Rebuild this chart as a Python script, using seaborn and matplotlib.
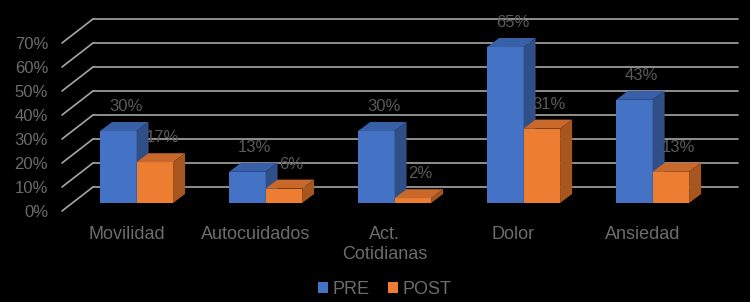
import numpy as np
import pandas as pd
import seaborn as sns
import matplotlib.pyplot as plt
from matplotlib.patches import Polygon, Patch

sns.set_style("dark")
plt.rcParams['font.family'] = ['Liberation Sans', 'DejaVu Sans']

# data
categorias = ["Movilidad", "Autocuidados", "Act.\nCotidianas", "Dolor", "Ansiedad"]
momentos = ["PRE", "POST"]
pre = [30, 13, 30, 65, 43]
post = [17, 6, 2, 31, 13]
yticks = [0, 10, 20, 30, 40, 50, 60, 70]

df = pd.DataFrame({
    "categoria": categorias * 2,
    "valor": pre + post,
    "momento": ["PRE"] * len(pre) + ["POST"] * len(post),
})

front = {"PRE": "#4472C4", "POST": "#ED7D31"}
side = {"PRE": "#2F4F86", "POST": "#A8561F"}
top = {"PRE": "#3760A8", "POST": "#C8682A"}
txt_gray = '#6c6c6c'
lbl_gray = '#5a5a5a'
grid_gray = '#a6a6a6'

fig = plt.figure(figsize=(7.5, 3.02), dpi=100, facecolor='black')
ax = fig.add_axes([62/750, 91/302, 676/750, 192/302])
ax.set_facecolor('black')

sns.barplot(data=df, x="categoria", y="valor", hue="momento", hue_order=momentos,
            palette=front, width=0.566, saturation=1, linewidth=0, legend=False, ax=ax)

# depth offsets (data units)
sx, sy = 0.078, 3.33    # bar plane behind the front wall
dx, dy = 0.093, 3.75    # depth of each bar
wx, wy = 0.24, 10.0     # depth of the back wall

# back wall grid
for v in yticks:
    ax.plot([-0.5, -0.5 + wx], [v, v + wy], color=grid_gray, lw=1.2, zorder=0, clip_on=False)
    ax.plot([-0.5 + wx, 4.74], [v + wy, v + wy], color=grid_gray, lw=1.2, zorder=0, clip_on=False)

n = len(categorias)
for i, p in enumerate(list(ax.patches)):
    m = momentos[i // n]
    val = (pre + post)[i]
    z = 2 if m == "PRE" else 3
    p.set_x(p.get_x() + sx)
    p.set_y(p.get_y() + sy)
    p.set_zorder(z)
    x0, w, b, h = p.get_x(), p.get_width(), p.get_y(), p.get_height()
    ax.add_patch(Polygon([(x0, b + h), (x0 + w, b + h), (x0 + w + dx, b + h + dy), (x0 + dx, b + h + dy)],
                         closed=True, facecolor=top[m], edgecolor='none', zorder=z))
    ax.add_patch(Polygon([(x0 + w, b), (x0 + w + dx, b + dy), (x0 + w + dx, b + h + dy), (x0 + w, b + h)],
                         closed=True, facecolor=side[m], edgecolor='none', zorder=z))
    ax.text(x0 + w / 2 + dx * 0.6, b + h + dy + 6.5, f"{val}%", ha='center', va='center',
            fontsize=12, color=lbl_gray, zorder=4)

ax.set_xlim(-0.5, 4.74)
ax.set_ylim(0, 80)
ax.set_yticks(yticks)
ax.set_yticklabels([f"{v}%" for v in yticks])
ax.tick_params(axis='y', length=0, pad=10, labelsize=12, labelcolor=txt_gray)
ax.tick_params(axis='x', length=0, pad=11, labelsize=13, labelcolor=txt_gray)
ax.set_xlabel('')
ax.set_ylabel('')
ax.grid(False)
for s in ax.spines.values():
    s.set_visible(False)

handles = [Patch(facecolor=front[m], edgecolor='none', label=m) for m in momentos]
fig.legend(handles=handles, loc='center', bbox_to_anchor=(0.513, 0.043), ncol=2, frameon=False,
           fontsize=13, labelcolor=txt_gray, handlelength=0.55, handleheight=0.55,
           handletextpad=0.25, columnspacing=1.0)

fig.savefig('out.png', dpi=100, facecolor='black')
